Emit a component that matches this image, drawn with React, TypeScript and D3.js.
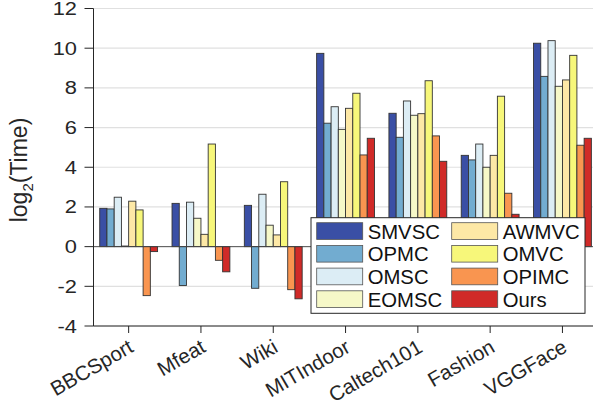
import React from "react";
import * as d3 from "d3";

const categories = ["BBCSport", "Mfeat", "Wiki", "MITIndoor", "Caltech101", "Fashion", "VGGFace"];
const methods = ["SMVSC", "OPMC", "OMSC", "EOMSC", "AWMVC", "OMVC", "OPIMC", "Ours"];
const colors = ["#3a4fa5", "#72acd0", "#dcedf5", "#f6f8c8", "#fde8a6", "#f7f77a", "#f99550", "#d02a28"];

const SMVSC = [1.93, 2.18, 2.08, 9.74, 6.72, 4.6, 10.25];
const OPMC = [1.9, -1.96, -2.1, 6.22, 5.51, 4.37, 8.58];
const OMSC = [2.49, 2.24, 2.64, 7.05, 7.34, 5.17, 10.38];
const EOMSC = [0.03, 1.43, 1.08, 5.91, 6.62, 4.0, 8.08];
const AWMVC = [2.29, 0.62, 0.59, 6.97, 6.7, 4.6, 8.4];
const OMVC = [1.85, 5.17, 3.27, 7.73, 8.36, 7.58, 9.64];
const OPIMC = [-2.47, -0.69, -2.17, 4.62, 5.58, 2.69, 5.11];
const Ours = [-0.25, -1.27, -2.63, 5.46, 4.3, 1.63, 5.46];
const series = [SMVSC, OPMC, OMSC, EOMSC, AWMVC, OMVC, OPIMC, Ours];
const yTicks = [-4, -2, 0, 2, 4, 6, 8, 10, 12];

const FONT = "'Liberation Sans', Arial, Helvetica, sans-serif";

export default function App() {
  const W = 593, H = 407;
  const x = d3.scaleLinear().domain([0.5, 7.5]).range([92.5, 598.6]);
  const y = d3.scaleLinear().domain([-4, 12]).range([326, 8.5]);
  const unit = x(2) - x(1);
  const inner = d3.scaleBand<number>().domain(d3.range(8)).range([-0.4 * unit, 0.4 * unit]).padding(0);
  const axisX = 93.5;
  const right = 600;

  return (
    <div style={{ position: "absolute", left: 0, top: 0 }}>
      <svg width={W} height={H} style={{ display: "block", fontFamily: FONT }}>
        <rect x={0} y={0} width={W} height={H} fill="#fff" />
        {/* gridlines */}
        {yTicks.map((t) => (
          <line key={"g" + t} x1={axisX} x2={right} y1={y(t)} y2={y(t)} stroke="#e0e0e0" strokeWidth={1.2} />
        ))}
        {/* bars */}
        {series.map((vals, si) =>
          vals.map((v, ci) => {
            const cx = x(ci + 1);
            const bx = cx + (inner(si) as number);
            const y0 = y(0);
            const yv = y(v);
            return (
              <rect
                key={si + "-" + ci}
                x={bx}
                y={Math.min(y0, yv)}
                width={inner.bandwidth()}
                height={Math.abs(yv - y0)}
                fill={colors[si]}
                stroke="#333"
                strokeWidth={0.9}
              />
            );
          })
        )}
        {/* baseline */}
        <line x1={axisX} x2={right} y1={y(0)} y2={y(0)} stroke="#444" strokeWidth={0.9} />
        {/* y axis */}
        <line x1={axisX} x2={axisX} y1={y(12)} y2={y(-4)} stroke="#262626" strokeWidth={1} />
        {yTicks.map((t) => (
          <g key={"yt" + t}>
            <line x1={axisX - 9} x2={axisX} y1={y(t)} y2={y(t)} stroke="#262626" strokeWidth={1} />
            <text
              transform={`translate(77,${y(t) + 6.5}) scale(1.18,1)`}
              textAnchor="end"
              fontSize={18.5}
              fill="#262626"
            >
              {t}
            </text>
          </g>
        ))}
        {/* x axis */}
        <line x1={axisX} x2={right} y1={y(-4)} y2={y(-4)} stroke="#262626" strokeWidth={1} />
        {categories.map((c, i) => {
          const cx = x(i + 1);
          return (
            <g key={c}>
              <line x1={cx} x2={cx} y1={y(-4)} y2={y(-4) + 7} stroke="#262626" strokeWidth={1} />
              <text
                transform={`translate(${cx + 6},${351}) rotate(-30)`}
                textAnchor="end"
                fontSize={20.5}
                fill="#262626"
              >
                {c}
              </text>
            </g>
          );
        })}
        {/* y label */}
        <text transform="translate(27,170) rotate(-90)" textAnchor="middle" fontSize={23} fill="#262626">
          log<tspan fontSize={15} dy={6}>2</tspan>
          <tspan dy={-6}>(Time)</tspan>
        </text>
        {/* legend */}
        <g>
          <rect x={311} y={217.7} width={274} height={95.6} fill="#fff" stroke="#262626" strokeWidth={1} />
          {methods.map((m, i) => {
            const col = Math.floor(i / 4);
            const row = i % 4;
            const sx = col === 0 ? 316.7 : 451.7;
            const sy = 222.7 + row * 22.7;
            return (
              <g key={m}>
                <rect x={sx} y={sy} width={46} height={16.7} fill={colors[i]} stroke="#555" strokeWidth={0.8} />
                <text x={sx + 51} y={sy + 9} dominantBaseline="central" fontSize={20.3} fill="#111">
                  {m}
                </text>
              </g>
            );
          })}
        </g>
      </svg>
    </div>
  );
}
